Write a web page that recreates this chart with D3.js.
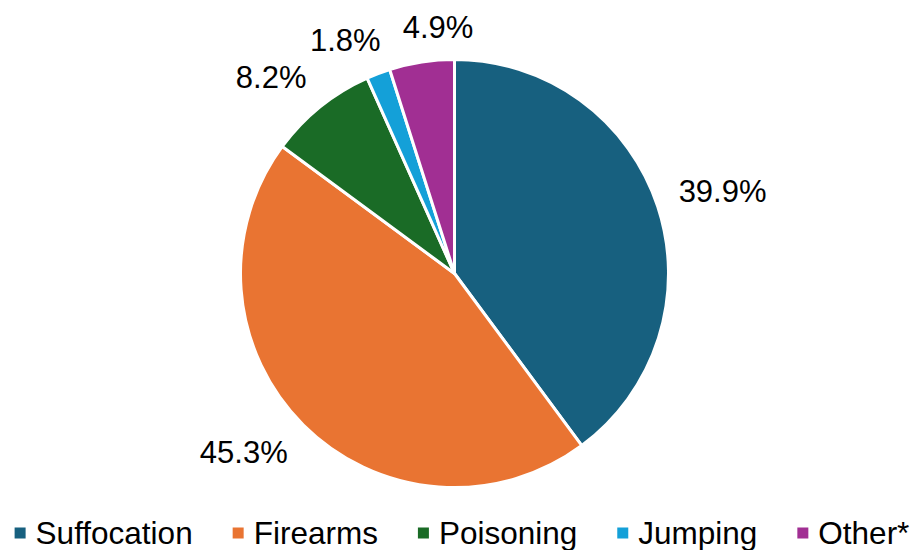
<!DOCTYPE html>
<html>
<head>
<meta charset="utf-8">
<script src="https://cdn.jsdelivr.net/npm/d3@7"></script>
<style>
  body { margin: 0; background: #fff; }
  svg text { font-family: "Liberation Sans", Arial, sans-serif; fill: #000; }
</style>
</head>
<body>
<div id="chart"></div>
<script>
  'use strict';

  var categories = ['Suffocation', 'Firearms', 'Poisoning', 'Jumping', 'Other*'];
  var values = [39.9, 45.3, 8.2, 1.8, 4.9];
  var labels = ['39.9%', '45.3%', '8.2%', '1.8%', '4.9%'];
  var colors = ['#17607f', '#e97432', '#1a6b26', '#14a0d8', '#a12f93'];

  var width = 912, height = 550;
  var cx = 454.5, cy = 273.5, radius = 214;

  var svg = d3.select('#chart').append('svg')
    .attr('width', width)
    .attr('height', height);

  var data = categories.map(function (c, i) {
    return { name: c, value: values[i], label: labels[i], color: colors[i] };
  });

  var pie = d3.pie().sort(null).value(function (d) { return d.value; });
  var arc = d3.arc().innerRadius(0).outerRadius(radius);

  var g = svg.append('g').attr('transform', 'translate(' + cx + ',' + cy + ')');

  var arcs = pie(data);

  g.selectAll('path.slice')
    .data(arcs)
    .enter().append('path')
    .attr('class', 'slice')
    .attr('d', arc)
    .attr('fill', function (d) { return d.data.color; })
    .attr('stroke', '#fff')
    .attr('stroke-width', 3)
    .attr('stroke-linejoin', 'round');

  // outside-end labels: the box corner nearest the pie sits just outside the rim
  var gap = 22, fontSize = 31;
  var clamp = function (v) { return Math.max(-1, Math.min(1, v * 2)); };
  var boxes = [];
  g.selectAll('text.lbl')
    .data(arcs)
    .enter().append('text')
    .attr('class', 'lbl')
    .style('font-size', fontSize + 'px')
    .attr('text-anchor', 'middle')
    .attr('dominant-baseline', 'central')
    .text(function (d) { return d.data.label; })
    .each(function (d) {
      var a = (d.startAngle + d.endAngle) / 2;
      var ux = Math.sin(a), uy = -Math.cos(a);
      var w = this.getComputedTextLength();
      var h = fontSize * 0.8;
      var x = (radius + gap) * ux + (w / 2) * clamp(ux);
      var y = (radius + gap) * uy + (h / 2) * clamp(uy);
      // nudge right if it collides with an earlier label
      boxes.forEach(function (b) {
        var overlapX = (b.x + b.w / 2) - (x - w / 2);
        var overlapY = Math.abs(b.y - y) < (b.h + h) / 2;
        if (overlapY && overlapX > 0 && b.x < x + w) {
          x += overlapX + 22;
        }
      });
      boxes.push({ x: x, y: y, w: w, h: h });
      d3.select(this).attr('x', x).attr('y', y);
    });

  // legend
  var legend = svg.append('g').attr('class', 'legend');
  var itemX = 0;
  var items = legend.selectAll('g.item')
    .data(data)
    .enter().append('g')
    .attr('class', 'item');

  items.append('rect')
    .attr('width', 11)
    .attr('height', 11)
    .attr('y', -5.5)
    .attr('fill', function (d) { return d.color; });

  items.append('text')
    .attr('x', 21)
    .attr('dominant-baseline', 'central')
    .style('font-size', '31.5px')
    .text(function (d) { return d.name; });

  var spacing = 40;
  items.each(function () {
    d3.select(this).attr('transform', 'translate(' + itemX + ',0)');
    itemX += this.getBBox().width + spacing;
  });
  var totalW = itemX - spacing;
  legend.attr('transform', 'translate(' + ((width - totalW) / 2 + 6) + ',533)');
</script>
</body>
</html>
